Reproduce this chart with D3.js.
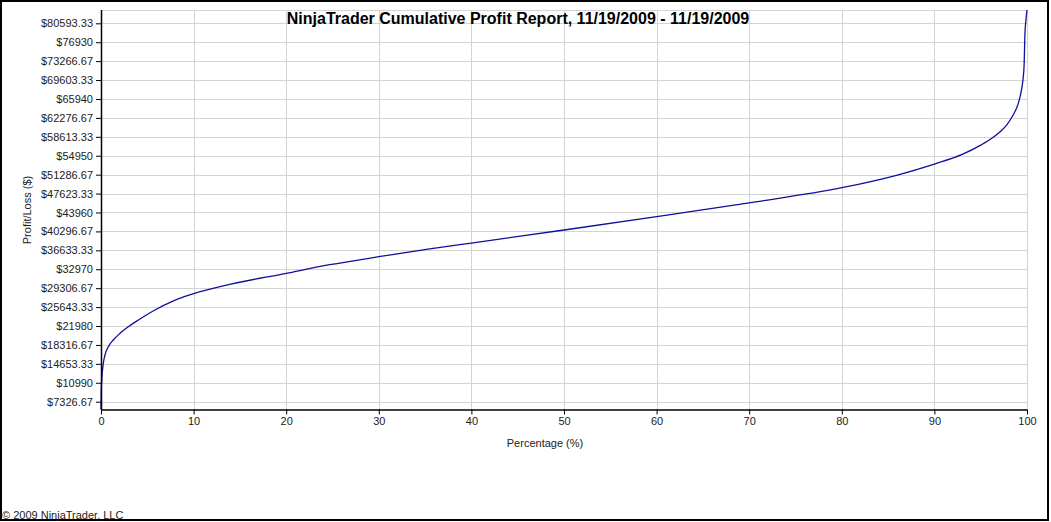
<!DOCTYPE html>
<html>
<head>
<meta charset="utf-8">
<script src="https://cdn.jsdelivr.net/npm/d3@7"></script>
<style>
  html, body { margin: 0; padding: 0; background: #fff; }
  svg { display: block; font-family: "Liberation Sans", Arial, sans-serif; }
</style>
</head>
<body>
<svg id="chart" width="1051" height="522"></svg>
<script>
// ---- data ----
const percentages = [0, 0.02, 0.08, 0.25, 0.43, 0.79, 1.33, 2.05, 2.95, 4.04, 5.83, 7.64, 9.07, 10.1, 13.2, 20, 24.7, 30, 35.5, 40, 50, 60, 70, 80, 86, 90, 93, 95, 96.2, 97.1, 97.8, 98.5, 99.06, 99.4, 99.6, 99.68, 99.78, 99.9, 100];
const profits = [5820, 9000, 11528, 14761, 16368, 17975, 19272, 20569, 21847, 23144, 25080, 26687, 27700, 28300, 29750, 32184, 33850, 35398, 36900, 38050, 40568, 43143, 45830, 48757, 51216, 53345, 55200, 57000, 58320, 59598, 60895, 62831, 65092, 67667, 70242, 72178, 78644, 81500, 83168];
const yTickValues = [7326.67, 10990, 14653.33, 18316.67, 21980, 25643.33, 29306.67, 32970, 36633.33, 40296.67, 43960, 47623.33, 51286.67, 54950, 58613.33, 62276.67, 65940, 69603.33, 73266.67, 76930, 80593.33];
const xTickValues = [0, 10, 20, 30, 40, 50, 60, 70, 80, 90, 100];
const yDomain = [5816, 83168];
const titleText = "NinjaTrader Cumulative Profit Report, 11/19/2009 - 11/19/2009";
const xLabel = "Percentage (%)";
const yLabel = "Profit/Loss ($)";
const footer = "\u00A9 2009 NinjaTrader, LLC";

// ---- layout ----
const svg = d3.select("#chart");
const pLeft = 101, pRight = 1027, pTop = 10, pBottom = 409.5;

const x = d3.scaleLinear().domain([0, 100]).range([pLeft, pRight]);
const y = d3.scaleLinear().domain(yDomain).range([pBottom, pTop]);

// outer border
svg.append("rect").attr("x", 1).attr("y", 1).attr("width", 1047).attr("height", 519)
  .attr("fill", "#fff").attr("stroke", "#000").attr("stroke-width", 2);

// grid
const grid = svg.append("g").attr("stroke", "#d3d3d3").attr("stroke-width", 1).attr("shape-rendering", "crispEdges");
grid.selectAll("line.h").data(yTickValues).enter().append("line")
  .attr("x1", pLeft).attr("x2", pRight)
  .attr("y1", d => Math.round(y(d)) + 0.5).attr("y2", d => Math.round(y(d)) + 0.5);
grid.selectAll("line.v").data(xTickValues.slice(1)).enter().append("line")
  .attr("y1", pTop).attr("y2", pBottom)
  .attr("x1", d => Math.round(x(d)) + 0.5).attr("x2", d => Math.round(x(d)) + 0.5);
grid.append("line").attr("x1", pLeft).attr("x2", pRight).attr("y1", pTop + 0.5).attr("y2", pTop + 0.5);

// line
const pts = percentages.map((p, i) => [p, profits[i]]);
svg.append("path").datum(pts)
  .attr("fill", "none").attr("stroke", "#10109a").attr("stroke-width", 1.3)
  .attr("d", d3.line().x(d => x(d[0])).y(d => y(d[1])).curve(d3.curveMonotoneX));

// axes
const yAxis = d3.axisLeft(y).tickValues(yTickValues).tickSize(5).tickPadding(3)
  .tickFormat(d => "$" + (Math.round(d * 100) / 100));
const gy = svg.append("g").attr("transform", `translate(${pLeft},0)`).call(yAxis);
const xAxis = d3.axisBottom(x).tickValues(xTickValues).tickSize(5).tickPadding(3).tickFormat(d3.format("d"));
const gx = svg.append("g").attr("transform", `translate(0,${pBottom})`).call(xAxis);
[gy, gx].forEach(g => {
  g.select(".domain").attr("stroke", "#000").attr("stroke-width", 1.5);
  g.selectAll(".tick line").attr("stroke", "#000");
  g.selectAll("text").attr("font-size", 11).attr("fill", "#222")
    .attr("font-family", "'Liberation Sans', Arial, sans-serif");
});
gy.select(".domain").attr("d", `M0.5,${pTop}V${pBottom}`);
gx.select(".domain").attr("d", `M${pLeft},0.5H${pRight}`);

// texts
svg.append("text").attr("x", 518).attr("y", 24).attr("text-anchor", "middle")
  .attr("font-size", 16).attr("font-weight", "bold").attr("fill", "#000").text(titleText);
svg.append("text").attr("x", 545).attr("y", 447).attr("text-anchor", "middle")
  .attr("font-size", 11).attr("fill", "#222").text(xLabel);
svg.append("text").attr("transform", "translate(31,210) rotate(-90)").attr("text-anchor", "middle")
  .attr("font-size", 11).attr("fill", "#222").text(yLabel);
svg.append("text").attr("x", 2).attr("y", 519)
  .attr("font-size", 11).attr("fill", "#222").text(footer);
</script>
</body>
</html>
